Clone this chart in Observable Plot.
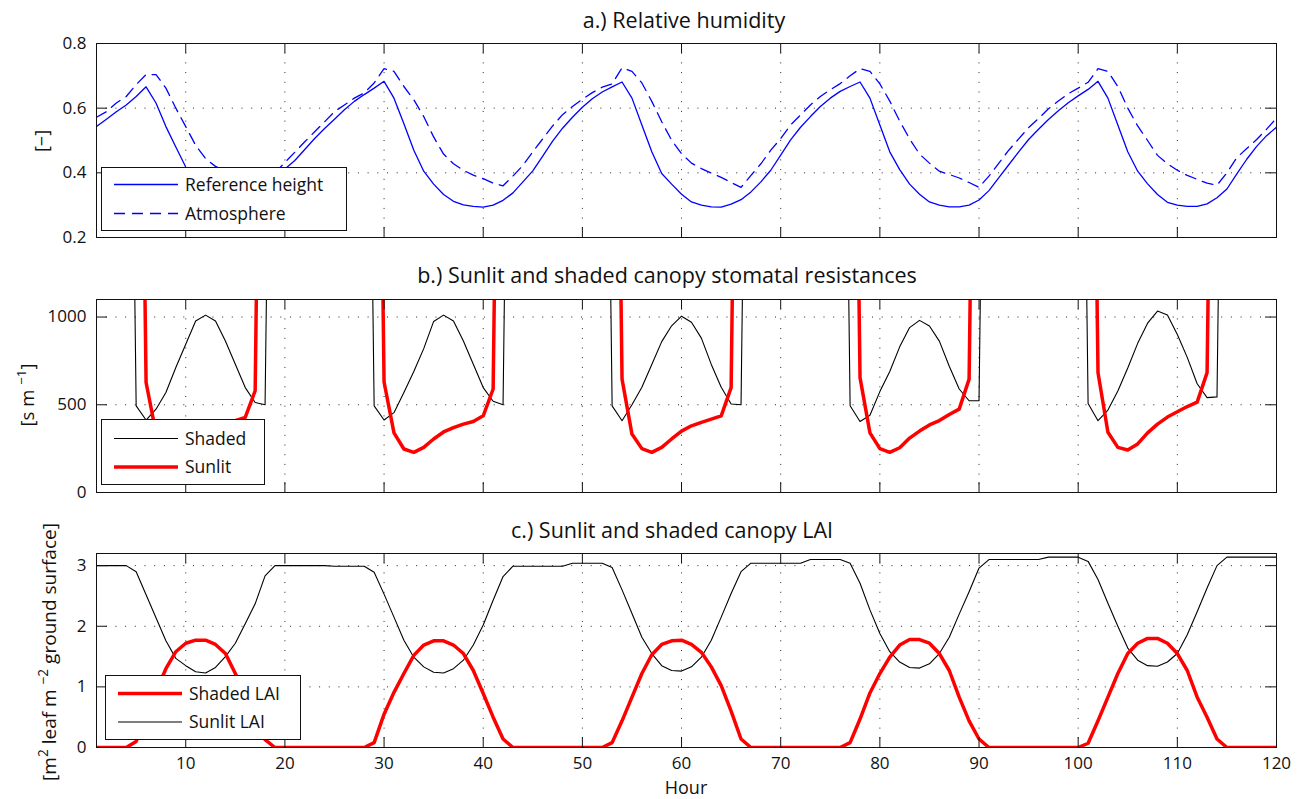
<!DOCTYPE html>
<html><head><meta charset="utf-8">
<script src="https://cdn.jsdelivr.net/npm/d3@7"></script>
<script src="https://cdn.jsdelivr.net/npm/@observablehq/plot@0.6"></script>
<style>
body{margin:0;background:#fff;}
#chart{position:relative;width:1302px;height:799px;overflow:hidden;background:#fff;}
</style></head><body><div id="chart"></div><script>
// ---------- data ----------
const hours = d3.range(1, 121);
const xTicks = [10,20,30,40,50,60,70,80,90,100,110,120];

const rhReference = [
0.543,0.566,0.589,0.610,0.636,0.666,0.616,0.543,0.480,0.418,
0.370,0.335,0.315,0.305,0.300,0.305,0.320,0.345,0.378,0.412,
0.438,0.472,0.506,0.537,0.566,0.595,0.621,0.642,0.662,0.683,
0.631,0.552,0.470,0.405,0.365,0.333,0.312,0.301,0.296,0.294,
0.300,0.315,0.338,0.372,0.406,0.452,0.498,0.538,0.572,0.603,
0.629,0.650,0.666,0.681,0.631,0.548,0.465,0.398,0.365,0.334,
0.310,0.300,0.295,0.294,0.303,0.317,0.341,0.372,0.408,0.455,
0.502,0.541,0.574,0.605,0.631,0.652,0.667,0.681,0.631,0.548,
0.465,0.410,0.365,0.334,0.310,0.300,0.295,0.295,0.300,0.316,
0.345,0.385,0.425,0.465,0.503,0.535,0.565,0.592,0.617,0.638,
0.658,0.683,0.631,0.548,0.465,0.405,0.366,0.333,0.309,0.300,
0.296,0.296,0.304,0.323,0.350,0.397,0.442,0.482,0.515,0.541];

const rhAtmosphere = [
0.572,0.589,0.616,0.636,0.673,0.704,0.704,0.662,0.600,0.543,
0.485,0.444,0.420,0.405,0.395,0.385,0.378,0.370,0.400,0.432,
0.464,0.496,0.527,0.558,0.589,0.610,0.631,0.647,0.678,0.722,
0.714,0.667,0.626,0.574,0.511,0.458,0.428,0.408,0.393,0.382,
0.368,0.360,0.390,0.423,0.465,0.505,0.545,0.580,0.605,0.628,
0.648,0.665,0.675,0.725,0.714,0.678,0.621,0.558,0.501,0.459,
0.430,0.413,0.399,0.386,0.370,0.355,0.392,0.428,0.470,0.506,
0.548,0.579,0.610,0.636,0.657,0.676,0.700,0.722,0.714,0.675,
0.622,0.560,0.505,0.458,0.430,0.405,0.395,0.384,0.370,0.355,
0.390,0.430,0.470,0.505,0.540,0.568,0.598,0.622,0.645,0.662,
0.680,0.722,0.714,0.667,0.600,0.545,0.500,0.454,0.428,0.408,
0.392,0.380,0.368,0.362,0.400,0.447,0.475,0.503,0.535,0.569];

const N = 5000; // night-time resistance, far above the axis
const rsShaded = [
N,N,N,N,494,413,475,570,712,845,
977,1011,977,863,731,598,513,500,N,N,
N,N,N,N,N,N,N,N,494,413,
455,570,690,820,975,1011,977,863,731,598,
520,500,N,N,N,N,N,N,N,N,
N,N,494,409,500,600,730,860,950,1005,
970,880,730,600,504,500,N,N,N,N,
N,N,N,N,N,N,494,405,440,575,
690,830,940,981,949,863,720,590,523,523,
N,N,N,N,N,N,N,N,N,N,
507,409,470,579,710,850,965,1034,1011,901,
770,620,541,545,N,N,N,N,N,N];

const rsSunlit = [
N,N,N,N,N,627,340,250,230,255,
300,340,360,390,409,428,580,N,N,N,
N,N,N,N,N,N,N,N,N,630,
340,248,229,257,305,345,370,390,405,437,
590,N,N,N,N,N,N,N,N,N,
N,N,N,646,333,250,229,257,305,350,
380,400,418,437,598,N,N,N,N,N,
N,N,N,N,N,N,N,655,340,250,
229,255,310,350,385,410,445,475,646,N,
N,N,N,N,N,N,N,N,N,N,
N,683,343,257,242,277,340,390,430,460,
490,515,683,N,N,N,N,N,N,N];

const laiShaded = [
0,0,0,0,0.10,0.50,0.92,1.30,1.58,1.72,
1.77,1.77,1.70,1.55,1.22,0.85,0.45,0.13,0,0,
0,0,0,0,0,0,0,0,0.08,0.55,
0.91,1.22,1.52,1.69,1.76,1.76,1.69,1.55,1.27,0.89,
0.50,0.14,0,0,0,0,0,0,0,0,
0,0,0.08,0.44,0.83,1.22,1.53,1.70,1.76,1.77,
1.70,1.57,1.33,1.02,0.60,0.14,0,0,0,0,
0,0,0,0,0,0,0.08,0.47,0.90,1.22,
1.49,1.69,1.78,1.78,1.72,1.55,1.27,0.83,0.44,0.14,
0,0,0,0,0,0,0,0,0,0,
0.07,0.44,0.83,1.22,1.55,1.72,1.80,1.80,1.72,1.55,
1.27,0.83,0.50,0.14,0,0,0,0,0,0];

const laiSunlit = [
3.00,3.00,3.00,3.00,2.90,2.52,2.14,1.76,1.47,1.35,
1.25,1.23,1.32,1.50,1.72,2.04,2.37,2.83,3.00,3.00,
3.00,3.00,3.00,3.00,2.99,2.99,2.99,2.99,2.89,2.53,
2.15,1.77,1.49,1.33,1.24,1.23,1.30,1.44,1.69,2.02,
2.43,2.82,2.99,2.99,2.99,2.99,2.99,2.99,3.04,3.04,
3.04,3.04,2.97,2.60,2.21,1.82,1.55,1.35,1.27,1.26,
1.33,1.49,1.77,2.15,2.54,2.90,3.04,3.04,3.04,3.04,
3.04,3.04,3.10,3.10,3.10,3.10,3.04,2.71,2.27,1.88,
1.58,1.41,1.32,1.31,1.38,1.55,1.82,2.20,2.57,2.96,
3.10,3.10,3.10,3.10,3.10,3.10,3.14,3.14,3.14,3.14,
3.07,2.77,2.38,2.00,1.64,1.44,1.35,1.34,1.41,1.55,
1.86,2.24,2.63,3.00,3.14,3.14,3.14,3.14,3.14,3.14];

const rhTicks = [0.2,0.4,0.6,0.8];
const rsTicks = [0,500,1000];
const laiTicks = [0,1,2,3];

// ---------- drawing ----------
const FONT = "'Open Sans', sans-serif";
const W = 1302, ML = 96, MR = 26;
const DASH = "11,7";
const chart = document.getElementById("chart");
const rows = vals => hours.map((h, i) => ({h, v: vals[i]}));

function panel({top, height, mt, mb, yDomain, yTicks, series, showX}) {
  const plotH = height - mt - mb, plotW = W - ML - MR;
  const grid = {stroke: "#000", strokeOpacity: 0.85, strokeDasharray: "1,8.7", strokeWidth: 1};
  const marks = [
    Plot.gridX(xTicks.filter(t => t < 120), grid),
    Plot.gridY(yTicks.filter(t => t > yDomain[0] && t < yDomain[1]), grid),
    ...series.map(s => Plot.line(rows(s.values), {x: "h", y: "v", stroke: s.color,
        strokeWidth: s.width, strokeDasharray: s.dash, clip: true})),
    Plot.tickX(xTicks, {x: d => d, insetTop: plotH - 10, stroke: "#111"}),
    Plot.tickX(xTicks, {x: d => d, insetBottom: plotH - 10, stroke: "#111"}),
    Plot.tickY(yTicks, {y: d => d, insetRight: plotW - 11, stroke: "#111"}),
    Plot.tickY(yTicks, {y: d => d, insetLeft: plotW - 11, stroke: "#111"}),
    Plot.frame({stroke: "#111"}),
    Plot.axisY({ticks: yTicks, tickSize: 0, tickPadding: 10, label: null, fontSize: 17,
        tickFormat: d => String(d), fill: "#111"})
  ];
  if (showX) marks.push(Plot.axisX({ticks: xTicks, tickSize: 0, tickPadding: 9, label: null,
        fontSize: 17, tickFormat: d => String(d), fill: "#111"}));
  const el = Plot.plot({
    width: W, height, marginLeft: ML, marginRight: MR, marginTop: mt, marginBottom: mb,
    x: {domain: [1, 120], ...(showX ? {} : {axis: null})},
    y: {domain: yDomain},
    style: {fontFamily: FONT, fontSize: "17px", background: "transparent", overflow: "visible"},
    marks
  });
  el.style.position = "absolute";
  el.style.left = "0px";
  el.style.top = top + "px";
  chart.appendChild(el);
}

panel({top: 0, height: 257, mt: 43, mb: 20, yDomain: [0.2, 0.8], yTicks: rhTicks,
  series: [
    {values: rhReference, color: "#0000ff", width: 1.3},
    {values: rhAtmosphere, color: "#0000ff", width: 1.3, dash: DASH}
  ]});
panel({top: 257, height: 253, mt: 42, mb: 18, yDomain: [0, 1100], yTicks: rsTicks,
  series: [
    {values: rsShaded, color: "#000", width: 1.1},
    {values: rsSunlit, color: "#ff0000", width: 3.5}
  ]});
panel({top: 510, height: 289, mt: 43, mb: 52, yDomain: [0, 3.2], yTicks: laiTicks, showX: true,
  series: [
    {values: laiSunlit, color: "#000", width: 1.1},
    {values: laiShaded, color: "#ff0000", width: 3.5}
  ]});

// ---------- overlay: titles, axis labels, legends ----------
const ov = d3.select(chart).append("svg")
  .attr("width", W).attr("height", 799)
  .style("position", "absolute").style("left", "0px").style("top", "0px")
  .style("font-family", FONT).attr("fill", "#111");

const titles = [
  {text: "a.) Relative humidity", x: 684, y: 28},
  {text: "b.) Sunlit and shaded canopy stomatal resistances", x: 667, y: 283},
  {text: "c.) Sunlit and shaded canopy LAI", x: 672, y: 538}
];
ov.selectAll("text.title").data(titles).join("text").attr("class", "title")
  .attr("x", d => d.x).attr("y", d => d.y).attr("text-anchor", "middle")
  .attr("font-size", 21.5).text(d => d.text);

ov.append("text").attr("x", 686).attr("y", 794).attr("text-anchor", "middle")
  .attr("font-size", 18).text("Hour");

function ylabel(x, y, size, parts) {
  const t = ov.append("text").attr("transform", `translate(${x},${y}) rotate(-90)`)
    .attr("text-anchor", "middle").attr("font-size", size);
  parts.forEach(p => {
    const s = t.append("tspan").text(p.t);
    if (p.sup) s.attr("dy", -8).attr("font-size", size * 0.72);
    if (p.down) s.attr("dy", 8);
  });
}
ylabel(48, 141, 18, [{t: "[−]"}]);
ylabel(34, 395, 18.5, [{t: "[s m "}, {t: "−1", sup: true}, {t: "]", down: true}]);
ylabel(56, 652, 19, [{t: "[m"}, {t: "2", sup: true}, {t: " leaf  m ", down: true}, {t: "−2", sup: true}, {t: " ground surface]", down: true}]);

function legend(x0, y0, w, h, items) {
  const g = ov.append("g");
  g.append("rect").attr("x", x0 + 0.5).attr("y", y0 + 0.5).attr("width", w).attr("height", h)
    .attr("fill", "#fff").attr("stroke", "#111");
  items.forEach(it => {
    g.append("line").attr("x1", x0 + 13).attr("x2", x0 + 77).attr("y1", it.y).attr("y2", it.y)
      .attr("stroke", it.color).attr("stroke-width", it.width)
      .attr("stroke-dasharray", it.dash || null);
    g.append("text").attr("x", x0 + 84).attr("y", it.y + 6).attr("font-size", 17.5).text(it.label);
  });
}
legend(101, 167, 245, 63, [
  {label: "Reference height", color: "#0000ff", width: 1.3, y: 184.5},
  {label: "Atmosphere", color: "#0000ff", width: 1.3, dash: DASH, y: 213.5}
]);
legend(101, 419, 163, 65, [
  {label: "Shaded", color: "#000", width: 1.1, y: 438.5},
  {label: "Sunlit", color: "#ff0000", width: 3.5, y: 467}
]);
legend(105, 675, 195, 64, [
  {label: "Shaded LAI", color: "#ff0000", width: 3.5, y: 693.5},
  {label: "Sunlit LAI", color: "#000", width: 1.1, y: 722}
]);
</script></body></html>
